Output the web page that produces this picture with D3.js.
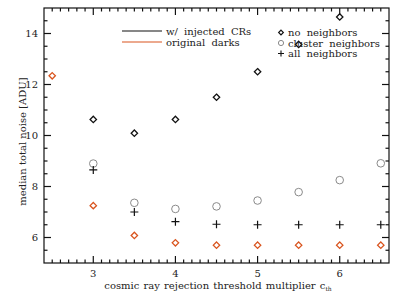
<!DOCTYPE html>
<html>
<head>
<meta charset="utf-8">
<script src="https://cdn.jsdelivr.net/npm/d3@7/dist/d3.min.js"></script>
<style>
  body { margin: 0; background: #fff; }
  svg text { font-family: "DejaVu Serif", serif; fill: #222; }
</style>
</head>
<body>
<div id="chart"></div>
<script>
// threshold multiplier c_th
const thresholds = [3, 3.5, 4, 4.5, 5, 5.5, 6, 6.5];
const darkThresholds = [2.5, 3, 3.5, 4, 4.5, 5, 5.5, 6, 6.5];

// median total noise [ADU]
const originalDarks = [12.34, 7.25, 6.08, 5.79, 5.70, 5.70, 5.70, 5.70, 5.70];
const noNeighbors = [10.63, 10.09, 10.63, 11.5, 12.5, 13.57, 14.65];
const clusterNeighbors = [8.9, 7.36, 7.12, 7.22, 7.45, 7.78, 8.25, 8.91];
const allNeighbors = [8.65, 7.0, 6.62, 6.52, 6.5, 6.5, 6.5, 6.5];

const xTicks = [3, 4, 5, 6];
const yTicks = [6, 8, 10, 12, 14];

const width = 399, height = 299;
const margin = { top: 8, right: 10, bottom: 36, left: 44 };
const orange = '#d9541e';
const gray = '#8a8a8a';
const ink = '#111';

const svg = d3.select('#chart').append('svg')
    .attr('width', width)
    .attr('height', height);

const x = d3.scaleLinear().domain([2.4, 6.6]).range([margin.left, width - margin.right]);
const y = d3.scaleLinear().domain([5, 15]).range([height - margin.bottom, margin.top]);

const minorX = d3.range(25, 66).map((v) => v / 10).filter((v) => !Number.isInteger(v));
const minorY = d3.range(11, 30).map((v) => v / 2).filter((v) => v % 2 !== 0);

const major = 7, minor = 3.5;
const x0 = x(2.4), x1 = x(6.6), y0 = y(5), y1 = y(15);

// ticks on all four sides, pointing inward
const tickLayer = svg.append('g');

function tick(xa, ya, xb, yb) {
    tickLayer.append('line')
        .attr('x1', xa).attr('y1', ya).attr('x2', xb).attr('y2', yb)
        .attr('stroke', ink).attr('stroke-width', 1.2);
}
function xTickLines(vals, len) {
    vals.forEach((v) => {
        tick(x(v), y0, x(v), y0 - len);
        tick(x(v), y1, x(v), y1 + len);
    });
}
function yTickLines(vals, len) {
    vals.forEach((v) => {
        tick(x0, y(v), x0 + len, y(v));
        tick(x1, y(v), x1 - len, y(v));
    });
}
xTickLines(minorX, minor);
xTickLines(xTicks, major);
yTickLines(minorY, minor);
yTickLines(yTicks, major);

svg.append('g').selectAll('text').data(xTicks).join('text')
    .attr('x', (d) => x(d)).attr('y', y0 + 14)
    .attr('text-anchor', 'middle').attr('font-size', 10)
    .text(d3.format('d'));

svg.append('g').selectAll('text').data(yTicks).join('text')
    .attr('x', x0 - 6).attr('y', (d) => y(d) + 3.5)
    .attr('text-anchor', 'end').attr('font-size', 10)
    .text(d3.format('d'));

svg.append('rect')
    .attr('x', x0).attr('y', y1)
    .attr('width', x1 - x0).attr('height', y0 - y1)
    .attr('fill', 'none').attr('stroke', ink).attr('stroke-width', 1.2);

// markers
const diamond = d3.symbol().type(d3.symbolDiamond2).size(26);

function diamonds(xs, ys, color) {
    svg.append('g').selectAll('path').data(ys).join('path')
        .attr('transform', (d, i) => `translate(${x(xs[i])},${y(d)})`)
        .attr('d', diamond)
        .attr('fill', 'none').attr('stroke', color).attr('stroke-width', 1.3);
}

diamonds(thresholds, noNeighbors, ink);

svg.append('g').selectAll('circle').data(clusterNeighbors).join('circle')
    .attr('cx', (d, i) => x(thresholds[i]))
    .attr('cy', (d) => y(d))
    .attr('r', 3.8)
    .attr('fill', 'none').attr('stroke', gray).attr('stroke-width', 1);

svg.append('g').selectAll('path').data(allNeighbors).join('path')
    .attr('transform', (d, i) => `translate(${x(thresholds[i])},${y(d)})`)
    .attr('d', 'M-4,0H4M0,-4V4')
    .attr('stroke', ink).attr('stroke-width', 1.2);

diamonds(darkThresholds, originalDarks, orange);

// legend
const lg = svg.append('g').attr('font-size', 10).attr('word-spacing', 3);
const lineItems = [['w/ injected CRs', ink], ['original darks', orange]];
lineItems.forEach(([label, color], i) => {
    const yy = 31 + i * 11;
    lg.append('line').attr('x1', 122).attr('x2', 162).attr('y1', yy).attr('y2', yy)
        .attr('stroke', color).attr('stroke-width', 1.2);
    lg.append('text').attr('x', 166).attr('y', yy + 3.5).text(label);
});

const markItems = ['no neighbors', 'cluster neighbors', 'all neighbors'];
markItems.forEach((label, i) => {
    const yy = 32.5 + i * 10.5;
    if (i === 0) {
        lg.append('path').attr('transform', `translate(281,${yy})`)
            .attr('d', d3.symbol().type(d3.symbolDiamond2).size(14))
            .attr('fill', 'none').attr('stroke', ink).attr('stroke-width', 1.2);
    } else if (i === 1) {
        lg.append('circle').attr('cx', 281).attr('cy', yy).attr('r', 2.6)
            .attr('fill', 'none').attr('stroke', gray);
    } else {
        lg.append('path').attr('transform', `translate(281,${yy})`)
            .attr('d', 'M-3,0H3M0,-3V3').attr('stroke', ink).attr('stroke-width', 1.1);
    }
    lg.append('text').attr('x', 288).attr('y', yy + 3.5).text(label);
});

// axis titles
const xt = svg.append('text')
    .attr('x', 218).attr('y', 289)
    .attr('text-anchor', 'middle')
    .attr('font-size', 10)
    .attr('word-spacing', 1);
xt.append('tspan').text('cosmic ray rejection threshold multiplier c');
xt.append('tspan').attr('font-size', 6).attr('dy', 2).text('th');

svg.append('text')
    .attr('transform', `translate(26,${(y0 + y1) / 2 + 6}) rotate(-90)`)
    .attr('text-anchor', 'middle')
    .attr('font-size', 10)
    .text('median total noise [ADU]');
</script>
</body>
</html>
